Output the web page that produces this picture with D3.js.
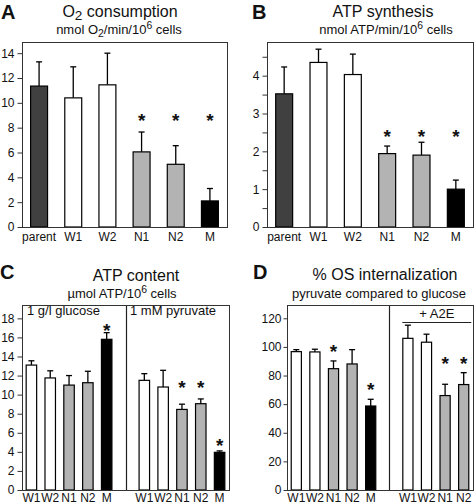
<!DOCTYPE html>
<html><head><meta charset="utf-8">
<script src="https://cdn.jsdelivr.net/npm/d3@7"></script>
<style>
body{margin:0;background:#fff}
svg{display:block}
text{font-family:"Liberation Sans",Arial,Helvetica,sans-serif;fill:#111}
</style>
</head><body><script>
// ---------- data ----------
const catsAB = ["parent","W1","W2","N1","N2","M"];
const o2Mean = [11.35, 10.4, 11.45, 6.05, 5.05, 2.1];
const o2Err  = [1.95, 2.5, 2.55, 1.6, 1.5, 1.0];
const o2StarAt = [null, null, null, 8.9, 8.9, 8.9];

const atpSynMean = [3.52, 4.35, 4.03, 1.94, 1.9, 1.0];
const atpSynErr  = [0.71, 0.35, 0.54, 0.2, 0.34, 0.24];
const atpSynStarAt = [null, null, null, 2.5, 2.5, 2.5];

const catsC = ["W1","W2","N1","N2","M"];
const atpGluMean = [13.1, 11.75, 11.0, 11.25, 15.8];
const atpGluErr  = [0.45, 0.75, 1.0, 1.2, 0.7];
const atpGluStarAt = [null, null, null, null, 17.2];
const atpPyrMean = [11.5, 10.8, 8.45, 9.05, 3.95];
const atpPyrErr  = [0.7, 1.75, 0.55, 0.5, 0.15];
const atpPyrStarAt = [null, null, 11.2, 11.2, 5.1];

const catsD = ["W1","W2","N1","N2","M"];
const osMean = [96.7, 96.5, 84.8, 88.1, 58.7];
const osErr  = [1.4, 1.9, 5.4, 10.0, 4.7];
const osStarAt = [null, null, 100, null, 73.4];
const catsDA2E = ["W1","W2","N1","N2"];
const osA2EMean = [106.0, 103.3, 66.0, 73.7];
const osA2EErr  = [9.2, 5.6, 7.9, 8.3];
const osA2EStarAt = [null, null, 91.5, 91.5];

const ticksA = [0,2,4,6,8,10,12,14];
const ticksB = [0,0.5,1,1.5,2,2.5,3,3.5,4,4.5];
const ticksC = [0,2,4,6,8,10,12,14,16,18];
const ticksD = [0,20,40,60,80,100,120];

// ---------- style ----------
const FONT = '"Liberation Sans",Arial,Helvetica,sans-serif';
const STAR_SIZE = 19;
const colorOf = c => c === "parent" ? "#404040" : (c === "M" ? "#000000" : (c[0] === "N" ? "#b3b3b3" : "#ffffff"));

const svg = d3.select("body").append("svg").attr("width", 475).attr("height", 504);

function makeBars(prefix, cats, mean, err, starAt) {
  return cats.map((c, i) => ({ key: prefix + i, label: c, mean: mean[i], err: err[i], star: starAt[i], color: colorOf(c) }));
}

function drawPanel(o) {
  const g = svg.append("g");
  const slots = o.slots;
  const x = d3.scaleBand().domain(slots.map(s => s.key)).range([o.x0, o.x1]).paddingInner(o.pad).paddingOuter(o.pad / 2);
  const y = d3.scaleLinear().domain([0, o.yMax]).range([o.y1, o.y0]);

  // y axis
  const ax = d3.axisLeft(y).tickValues(o.ticks).tickSize(o.tickSize).tickPadding(o.tickPad)
    .tickFormat(d => (o.labelIf ? o.labelIf(d) : true) ? d3.format("d")(d) : "");
  const axG = g.append("g").attr("transform", `translate(${o.x0 + 0.5},0)`).call(ax);
  axG.select(".domain").remove();
  axG.selectAll("line").attr("stroke", "#333");
  axG.selectAll("text").attr("font-size", 12).attr("font-family", FONT).attr("fill", "#111");

  // x axis labels
  const lab = {};
  slots.forEach(s => lab[s.key] = s.label || "");
  const bx = d3.axisBottom(x).tickSize(0).tickPadding(o.xPad).tickFormat(k => lab[k]);
  const bxG = g.append("g").attr("transform", `translate(0,${o.y1})`).call(bx);
  bxG.select(".domain").remove();
  bxG.selectAll("text").attr("font-size", 12).attr("font-family", FONT).attr("fill", "#111");

  const bars = slots.filter(s => s.mean != null);
  const bw = x.bandwidth();

  // error bars
  const eg = g.append("g").attr("stroke", "#000").attr("stroke-width", 1.3).attr("fill", "none");
  bars.forEach(b => {
    const cx = x(b.key) + bw / 2;
    eg.append("line").attr("x1", cx).attr("x2", cx).attr("y1", y(b.mean)).attr("y2", y(b.mean + b.err));
    eg.append("line").attr("x1", cx - 3).attr("x2", cx + 3).attr("y1", y(b.mean + b.err)).attr("y2", y(b.mean + b.err));
  });

  // bars
  g.append("g").selectAll("rect").data(bars).join("rect")
    .attr("x", b => x(b.key) + 0.5)
    .attr("y", b => y(b.mean))
    .attr("width", bw - 1)
    .attr("height", b => y(0) - y(b.mean))
    .attr("fill", b => b.color)
    .attr("stroke", "#000")
    .attr("stroke-width", 1.2);

  // stars
  g.append("g").selectAll("text").data(bars.filter(b => b.star != null)).join("text")
    .attr("x", b => x(b.key) + bw / 2)
    .attr("y", b => y(b.star) + STAR_SIZE * 0.575)
    .attr("text-anchor", "middle")
    .attr("font-size", STAR_SIZE)
    .attr("font-weight", "bold")
    .attr("font-family", FONT)
    .attr("fill", "#000")
    .text("*");

  // dividers
  slots.filter(s => s.divider).forEach(s => {
    const dx = Math.round(x(s.key) + bw / 2) + 0.5;
    g.append("line").attr("x1", dx).attr("x2", dx).attr("y1", o.y0).attr("y2", o.y1).attr("stroke", "#222").attr("stroke-width", 1.2);
  });

  // frame
  g.append("rect").attr("x", o.x0 + 0.5).attr("y", o.y0 + 0.5)
    .attr("width", o.x1 - o.x0).attr("height", o.y1 - o.y0)
    .attr("fill", "none").attr("stroke", "#333").attr("stroke-width", 1);

  return { g, x, y, bw };
}

function titleText(parts, xPos, yPos, size, subScale) {
  const t = svg.append("text").attr("x", xPos).attr("y", yPos).attr("text-anchor", "middle")
    .attr("font-size", size).attr("font-family", FONT);
  parts.forEach(p => {
    if (typeof p === "string") t.append("tspan").text(p);
    else if (p.sub) {
      t.append("tspan").attr("font-size", size * (subScale || 0.8)).attr("baseline-shift", -size * 0.2).text(p.sub);
    } else {
      t.append("tspan").attr("font-size", size * 0.8).attr("baseline-shift", size * 0.38).text(p.sup);
    }
  });
  return t;
}
function letter(txt, xPos, yPos) {
  svg.append("text").attr("x", xPos).attr("y", yPos).attr("font-size", 20).attr("font-weight", "bold")
    .attr("font-family", FONT).attr("fill", "#000").text(txt);
}

// ---------- Panel A ----------
drawPanel({
  x0: 22, x1: 227, y0: 42, y1: 227, yMax: 14.9, pad: 0.475,
  ticks: ticksA, tickSize: 5, tickPad: 3, xPad: 5,
  slots: makeBars("a", catsAB, o2Mean, o2Err, o2StarAt)
});
letter("A", 1, 18.5);
titleText(["O", {sub: "2"}, " consumption"], 120, 17, 16, 0.85);
titleText(["nmol O", {sub: "2"}, "/min/10", {sup: "6"}, " cells"], 119, 34, 13);

// ---------- Panel B ----------
drawPanel({
  x0: 267, x1: 473, y0: 42, y1: 227, yMax: 4.89, pad: 0.477,
  ticks: ticksB, tickSize: 5, tickPad: 3, xPad: 5, labelIf: d => Number.isInteger(d),
  slots: makeBars("b", catsAB, atpSynMean, atpSynErr, atpSynStarAt)
});
letter("B", 252, 18.5);
titleText(["ATP synthesis"], 383, 17, 16);
titleText(["nmol ATP/min/10", {sup: "6"}, " cells"], 386, 34, 13);

// ---------- Panel C ----------
const slotsC = makeBars("g", catsC, atpGluMean, atpGluErr, atpGluStarAt)
  .concat([{ key: "gap", label: "", divider: true }])
  .concat(makeBars("p", catsC, atpPyrMean, atpPyrErr, atpPyrStarAt));
const pC = drawPanel({
  x0: 22, x1: 229, y0: 305, y1: 490, yMax: 19.4, pad: 0.39,
  ticks: ticksC, tickSize: 5, tickPad: 3, xPad: 3.5,
  slots: slotsC
});
letter("C", 0, 279);
titleText(["ATP content"], 136, 281, 16);
titleText(["µmol ATP/10", {sup: "6"}, " cells"], 122, 298, 13);
svg.append("text").attr("x", 27).attr("y", 315).attr("font-size", 13).attr("font-family", FONT).text("1 g/l glucose");
svg.append("text").attr("x", pC.x("gap") + pC.bw / 2 + 4.5).attr("y", 315).attr("font-size", 13).attr("font-family", FONT).text("1 mM pyruvate");

// ---------- Panel D ----------
const slotsD = makeBars("l", catsD, osMean, osErr, osStarAt)
  .concat([{ key: "gap", label: "", divider: true }])
  .concat(makeBars("r", catsDA2E, osA2EMean, osA2EErr, osA2EStarAt));
const pD = drawPanel({
  x0: 287, x1: 473, y0: 305, y1: 490, yMax: 129.3, pad: 0.4,
  ticks: ticksD, tickSize: 4, tickPad: 2, xPad: 3.5,
  slots: slotsD
});
letter("D", 253, 279);
titleText(["% OS internalization"], 385, 280, 16);
titleText(["pyruvate compared to glucose"], 379, 298, 13);
const a2eX1 = pD.x("r0"), a2eX2 = pD.x("r3") + pD.bw + 2;
svg.append("line").attr("x1", a2eX1).attr("x2", a2eX2).attr("y1", 322.5).attr("y2", 322.5).attr("stroke", "#222").attr("stroke-width", 1.2);
svg.append("text").attr("x", (a2eX1 + a2eX2) / 2).attr("y", 318).attr("text-anchor", "middle")
  .attr("font-size", 13).attr("font-family", FONT).text("+ A2E");
</script></body></html>
